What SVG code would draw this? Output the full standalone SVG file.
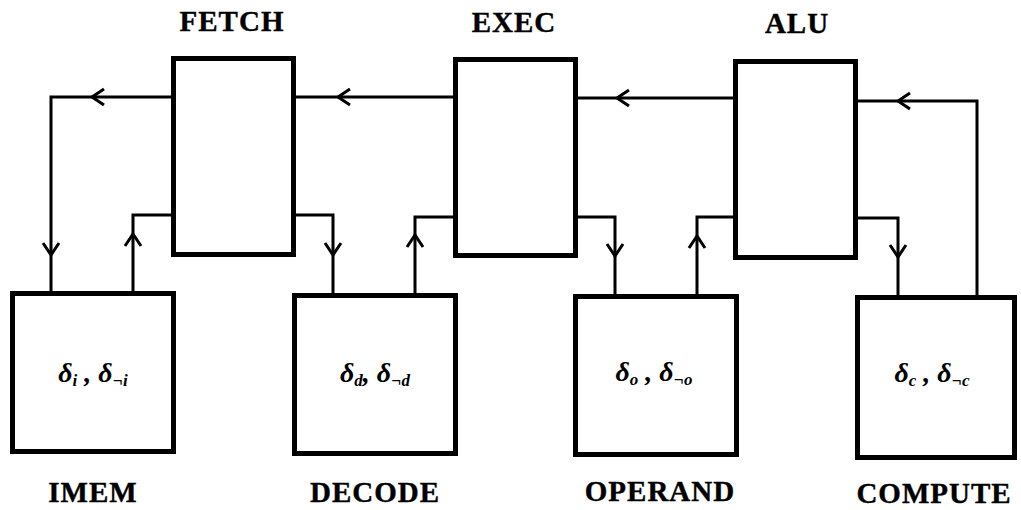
<svg xmlns="http://www.w3.org/2000/svg" xmlns:xlink="http://www.w3.org/1999/xlink" width="1021" height="510" viewBox="0 0 1021 510">
<style>
.box{fill:#fff;stroke:#000;stroke-width:5}
.lbl{font-family:"Liberation Serif",serif;font-weight:bold;font-size:29px;letter-spacing:1px;fill:#000;text-anchor:middle;stroke:#000;stroke-width:0.4}
.math{font-family:"Liberation Serif",serif;font-style:italic;font-weight:bold;font-size:28px;fill:#000;text-anchor:middle}
.sub{font-size:17px}
.wire{fill:none;stroke:#000;stroke-width:3}
.chev{fill:none;stroke:#000;stroke-width:3;stroke-linejoin:miter}
</style>
<defs>
<path id="chev" class="chev" d="M-12,-8 L0,0 L-12,8"/>
</defs>
<rect width="1021" height="510" fill="#fff"/>
<g id="connectors">
<path class="wire" d="M171,97 H51 V291"/>
<use xlink:href="#chev" transform="translate(92,97) rotate(180)"/>
<use xlink:href="#chev" transform="translate(51,255) rotate(90)"/>
<path class="wire" d="M133,291 V215 H171"/>
<use xlink:href="#chev" transform="translate(133,234) rotate(-90)"/>
<path class="wire" d="M453,97 H296"/>
<use xlink:href="#chev" transform="translate(338,97) rotate(180)"/>
<path class="wire" d="M296,215 H333 V293"/>
<use xlink:href="#chev" transform="translate(333,255) rotate(90)"/>
<path class="wire" d="M415,293 V217 H453"/>
<use xlink:href="#chev" transform="translate(415,235) rotate(-90)"/>
<path class="wire" d="M733,98 H578"/>
<use xlink:href="#chev" transform="translate(617,98) rotate(180)"/>
<path class="wire" d="M578,217 H615 V294"/>
<use xlink:href="#chev" transform="translate(615,256) rotate(90)"/>
<path class="wire" d="M697,294 V217 H733"/>
<use xlink:href="#chev" transform="translate(697,236) rotate(-90)"/>
<path class="wire" d="M977,295 V101 H858"/>
<use xlink:href="#chev" transform="translate(898,101) rotate(180)"/>
<path class="wire" d="M858,218 H898 V295"/>
<use xlink:href="#chev" transform="translate(898,257) rotate(90)"/>
</g>
<g id="fetch">
<rect class="box" x="173.5" y="58.5" width="120" height="196"/>
<text class="lbl" x="232" y="31">FETCH</text>
</g>
<g id="exec">
<rect class="box" x="455.5" y="59.5" width="120" height="196"/>
<text class="lbl" x="514" y="32">EXEC</text>
</g>
<g id="alu">
<rect class="box" x="735.5" y="61.5" width="120" height="196"/>
<text class="lbl" x="797" y="33">ALU</text>
</g>
<g id="imem">
<rect class="box" x="12.5" y="293.5" width="161" height="158"/>
<text class="math" x="93" y="382">δ<tspan class="sub" dy="4">i</tspan><tspan dy="-4"> , δ</tspan><tspan class="sub" dy="4">¬i</tspan></text>
<text class="lbl" x="93" y="502">IMEM</text>
</g>
<g id="decode">
<rect class="box" x="294.5" y="295.5" width="161" height="158"/>
<text class="math" x="375" y="382">δ<tspan class="sub" dy="4">d</tspan><tspan dy="-4">, δ</tspan><tspan class="sub" dy="4">¬d</tspan></text>
<text class="lbl" x="375" y="502">DECODE</text>
</g>
<g id="operand">
<rect class="box" x="575.5" y="296.5" width="161" height="158"/>
<text class="math" x="654" y="381">δ<tspan class="sub" dy="4">o</tspan><tspan dy="-4"> , δ</tspan><tspan class="sub" dy="4">¬o</tspan></text>
<text class="lbl" x="660" y="501">OPERAND</text>
</g>
<g id="compute">
<rect class="box" x="857.5" y="297.5" width="157" height="160"/>
<text class="math" x="932" y="382">δ<tspan class="sub" dy="4">c</tspan><tspan dy="-4"> , δ</tspan><tspan class="sub" dy="4">¬c</tspan></text>
<text class="lbl" x="934" y="503">COMPUTE</text>
</g>
</svg>
